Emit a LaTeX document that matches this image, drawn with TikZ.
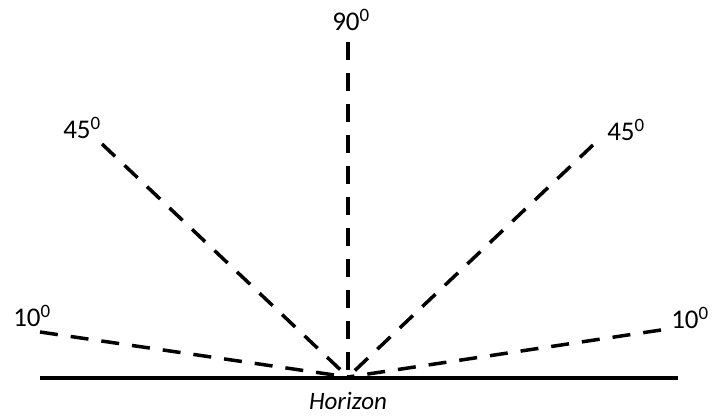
\documentclass[tikz,border=0pt]{standalone}
\usepackage{fontspec}
\setmainfont{Carlito}[Numbers=Lining]
\begin{document}
\begin{tikzpicture}[x=1pt,y=-1pt,
  ray/.style={line width=3.5pt,dash pattern=on 18pt off 13pt},
  ground/.style={line width=3.5pt},
  lbl/.style={font=\fontsize{27}{30}\selectfont,inner sep=0pt}]
\useasboundingbox (0,0) rectangle (712,415);
\coordinate (O) at (348,377);
\coordinate (HL) at (40,378);
\coordinate (HR) at (678,378);
\coordinate (P90) at (348,42);
\coordinate (L45) at (102,144);
\coordinate (R45) at (593,145);
\coordinate (L10) at (40,332);
\coordinate (R10) at (661,330);
\draw[ground] (HL) -- (HR);
\draw[ray] (P90) -- (O);
\draw[ray] (L45) -- (O);
\draw[ray] (R45) -- (O);
\draw[ray] (L10) -- (O);
\draw[ray] (R10) -- (O);
\node[lbl] (t90) at (351,20) {90\textsuperscript{0}};
\node[lbl] (tl45) at (82,128) {45\textsuperscript{0}};
\node[lbl] (tr45) at (626,130) {45\textsuperscript{0}};
\node[lbl] (tl10) at (32,316) {10\textsuperscript{0}};
\node[lbl] (tr10) at (690,318) {10\textsuperscript{0}};
\node[lbl,font=\fontsize{25}{28}\selectfont\itshape] (hz) at (348,401) {Horizon};
\end{tikzpicture}
\end{document}
